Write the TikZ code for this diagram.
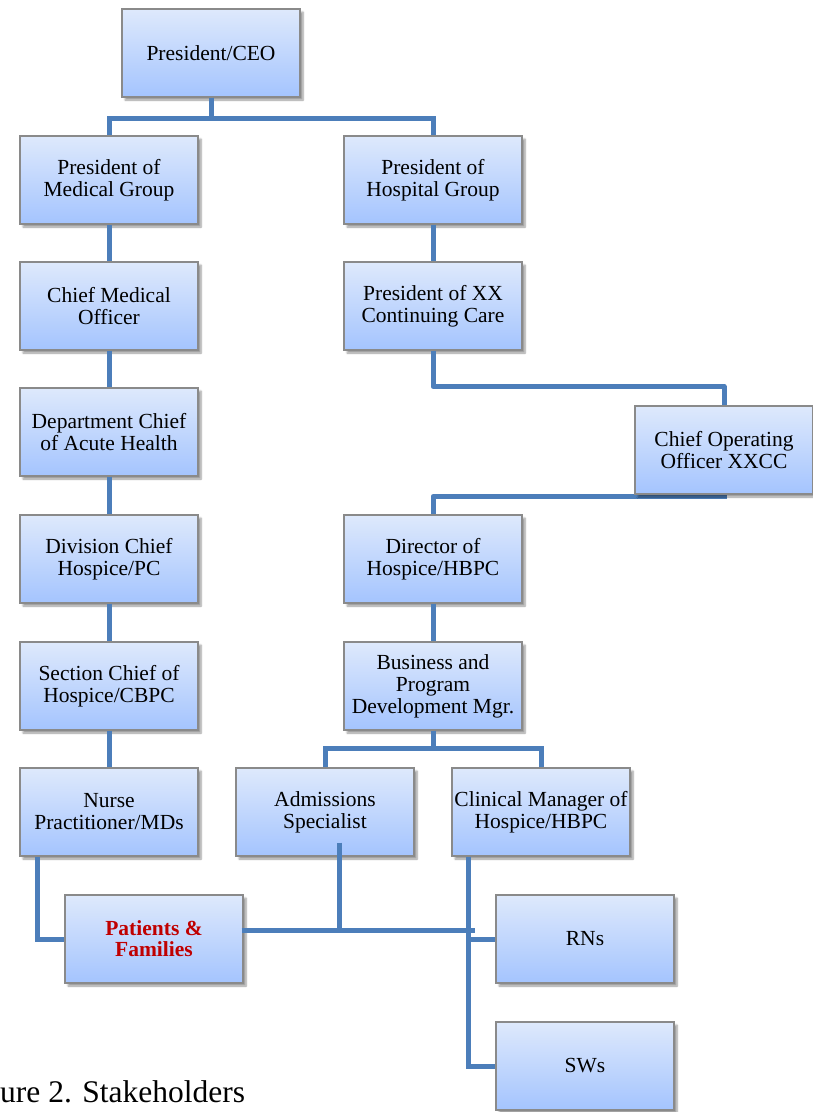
\documentclass[tikz,border=0pt]{standalone}
\usepackage{fontspec}
\setmainfont{Liberation Serif}
\usetikzlibrary{shadows.blur, backgrounds}

\definecolor{boxtop}{RGB}{222,233,252}
\definecolor{boxbot}{RGB}{164,196,254}
\definecolor{boxedge}{RGB}{138,138,138}
\definecolor{linkblue}{RGB}{76,126,186}
\definecolor{patred}{RGB}{192,0,0}

\begin{document}
\begin{tikzpicture}[x=1pt, y=-1pt,
    post/.style={draw=boxedge, line width=1.2pt,
        top color=boxtop, bottom color=boxbot,
        minimum width=178pt, minimum height=88pt, inner sep=2pt,
        align=center, font=\fontsize{21.5}{22}\selectfont,
        blur shadow={shadow xshift=3pt, shadow yshift=-3pt,
            shadow blur steps=6, shadow opacity=40}},
    link/.style={draw=linkblue, line width=5pt}]
    \useasboundingbox (0,0) rectangle (813,1112);

    %% Boxes
    \node[post] (ceo)       at (211,  53) {President/CEO};
    \node[post] (medgrp)    at (109, 180) {President of\\Medical Group};
    \node[post] (hospgrp)   at (433, 180) {President of\\Hospital Group};
    \node[post] (cmo)       at (109, 306) {Chief Medical\\Officer};
    \node[post] (xxcc)      at (433, 306) {President of XX\\Continuing Care};
    \node[post] (coo)       at (724, 450) {Chief Operating\\Officer XXCC};
    \node[post] (acute)     at (109, 432) {Department Chief\\of Acute Health};
    \node[post] (division)  at (109, 559) {Division Chief\\Hospice/PC};
    \node[post] (director)  at (433, 559) {Director of\\Hospice/HBPC};
    \node[post] (section)   at (109, 686) {Section Chief of\\Hospice/CBPC};
    \node[post] (business)  at (433, 686) {Business and\\Program\\Development Mgr.};
    \node[post] (nurse)     at (109, 812) {Nurse\\Practitioner/MDs};
    \node[post] (admission) at (325, 812) {Admissions\\Specialist};
    \node[post] (clinical)  at (541, 812) {Clinical Manager of\\Hospice/HBPC};
    \node[post, font=\fontsize{21.5}{21}\selectfont\bfseries, text=patred]
        (patients) at (154, 939) {Patients \&\\Families};
    \node[post] (rns)       at (585, 939) {RNs};
    \node[post] (sws)       at (585,1066) {SWs};

    %% Caption
    \node[anchor=base west, inner sep=0pt, font=\fontsize{31.5}{33}\selectfont]
        (caption) at (0,1102) {ure 2. Stakeholders};

    %% Top of the tree
    \draw[link] (ceo.south) -- ++(0,21) -| (medgrp.north);
    \draw[link] (ceo.south) -- ++(0,21) -| (hospgrp.north);

    %% Medical group column
    \draw[link] (medgrp.south) -- (cmo.north);
    \draw[link] (cmo.south) -- (acute.north);
    \draw[link] (acute.south) -- (division.north);
    \draw[link] (division.south) -- (section.north);
    \draw[link] (section.south) -- (nurse.north);

    %% Hospital group column
    \draw[link] (hospgrp.south) -- (xxcc.north);
    \draw[link, line join=round] (xxcc.south) -- ++(0,36) -| (coo.north);
    \begin{scope}[on background layer]
        \draw[link, line join=round]
            ([xshift=3pt, yshift=-2pt]coo.south) -| (director.north);
    \end{scope}
    \draw[link] (director.south) -- (business.north);
    \draw[link] (business.south) -- ++(0,18) -| (admission.north);
    \draw[link] (business.south) -- ++(0,18) -| (clinical.north);

    %% Links to the patients
    \coordinate (nursetap) at ([xshift=18pt]nurse.south west);
    \coordinate (admtap)   at ([xshift=14pt, yshift=14pt]admission.south);
    \coordinate (cmtap)    at ([xshift=17pt]clinical.south west);
    \coordinate (meet)     at (475, 930);
    \draw[link] (nursetap) |- (patients.west);
    \draw[link] ([xshift=-2pt, yshift=9pt]patients.east) -- (meet);
    \draw[link] (admtap) -- (admtap |- meet);
    \draw[link] (cmtap) |- (rns.west);
    \draw[link] (cmtap) |- (sws.west);
\end{tikzpicture}
\end{document}
